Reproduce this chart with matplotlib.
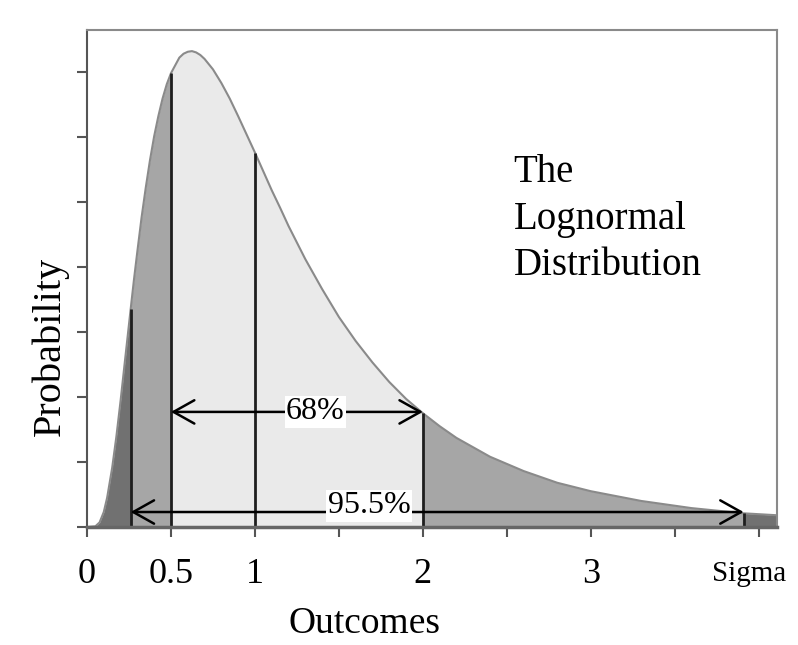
import numpy as np
import matplotlib.pyplot as plt

# curve (outcome, probability density)
outcome = [0.0, 0.05, 0.075, 0.1, 0.12, 0.15, 0.175, 0.2, 0.225, 0.26, 0.28, 0.3,
           0.325, 0.35, 0.375, 0.4, 0.425, 0.45, 0.475, 0.5, 0.55, 0.575, 0.6,
           0.625, 0.65, 0.675, 0.7, 0.75, 0.8, 0.85, 0.9, 0.95, 1.0, 1.05, 1.1,
           1.15, 1.2, 1.3, 1.4, 1.5, 1.6, 1.7, 1.8, 1.9, 2.0, 2.1, 2.2, 2.4, 2.6,
           2.8, 3.0, 3.3, 3.6, 3.91, 4.11]
density = [0.0, 0.001, 0.007, 0.023, 0.045, 0.091, 0.139, 0.194, 0.253, 0.335,
           0.381, 0.424, 0.476, 0.522, 0.564, 0.601, 0.632, 0.659, 0.681, 0.698,
           0.722, 0.728, 0.731, 0.732, 0.730, 0.726, 0.720, 0.704, 0.683, 0.659,
           0.632, 0.604, 0.576, 0.547, 0.518, 0.491, 0.463, 0.412, 0.366, 0.323,
           0.286, 0.253, 0.223, 0.197, 0.175, 0.155, 0.137, 0.108, 0.086, 0.068,
           0.055, 0.040, 0.029, 0.021, 0.018]

# band edges (outcomes where vertical lines are drawn)
edges = [0.26, 0.5, 1.0, 2.0, 3.91]
bands = [(0.0, 0.26, '#717171'), (0.26, 0.5, '#a6a6a6'), (0.5, 2.0, '#eaeaea'),
         (2.0, 3.91, '#a6a6a6'), (3.91, 4.11, '#717171')]
tick_pos = [0, 0.5, 1, 1.5, 2, 2.5, 3, 3.5, 4]
tick_lab = ['0', '0.5', '1', '', '2', '', '3', '', '']

x = np.array(outcome)
y = np.array(density)

plt.rcParams['font.family'] = ['Liberation Serif', 'DejaVu Serif']

fig = plt.figure(figsize=(7.98, 6.45), dpi=100)
ax = fig.add_axes([0.109, 0.183, 0.865, 0.771])

for a, b, c in bands:
    m = (x >= a) & (x <= b)
    ax.fill_between(x[m], 0, y[m], color=c, lw=0)

ax.plot(x, y, color='#8a8a8a', lw=1.5)

for e in edges:
    ax.vlines(e, 0, y[outcome.index(e)], color='#1e1e1e', lw=2)

arrow = dict(arrowstyle='<->, head_length=0.75, head_width=0.42',
             color='black', lw=1.8, mutation_scale=20, shrinkA=0, shrinkB=0)

# 68% arrow
ax.annotate('', xy=(0.5, 0.177), xytext=(2.0, 0.177), arrowprops=arrow)
ax.text(1.36, 0.177, '68%', ha='center', va='center', fontsize=23,
        bbox=dict(facecolor='white', edgecolor='none', pad=1))

# 95.5% arrow
ax.annotate('', xy=(0.26, 0.023), xytext=(3.91, 0.023), arrowprops=arrow)
ax.text(1.68, 0.021, '95.5%', ha='center', va='baseline', fontsize=23,
        bbox=dict(facecolor='white', edgecolor='none', pad=1))

ax.text(2.54, 0.573, 'The\nLognormal\nDistribution', ha='left', va='top',
        fontsize=28, linespacing=1.33)

ax.set_xlim(0, 4.11)
ax.set_ylim(0, 0.765)
ax.set_xticks(tick_pos)
ax.set_xticklabels(tick_lab, fontsize=26)
ax.set_yticks(np.arange(0, 0.75, 0.1))
ax.set_yticklabels([])
ax.tick_params(axis='x', direction='out', length=7, width=1.5, color='#555555', pad=15)
ax.tick_params(axis='y', direction='out', length=7, width=1.5, color='#555555')
ax.text(3.94, -0.052, 'Sigma', ha='center', va='top', fontsize=21)

for s in ['top', 'right']:
    ax.spines[s].set_color('#8a8a8a')
    ax.spines[s].set_linewidth(1.5)
ax.spines['left'].set_color('#555555')
ax.spines['left'].set_linewidth(1.5)
ax.spines['bottom'].set_color('#666666')
ax.spines['bottom'].set_linewidth(2.5)

fig.text(50 / 798, 1 - 346 / 645, 'Probability', rotation=90, ha='center',
         va='center', fontsize=29)
fig.text(365 / 798, 1 - 624 / 645, 'Outcomes', ha='center', va='center',
         fontsize=27)

fig.savefig('out.png', dpi=100)
